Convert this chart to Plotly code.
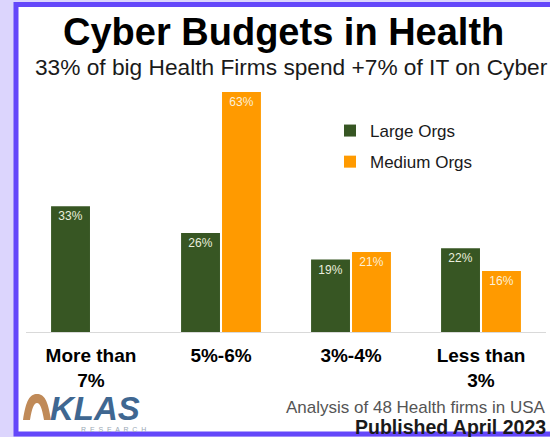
import plotly.graph_objects as go

# ---------------- data ----------------
categories = ["More than<br>7%", "5%-6%", "3%-4%", "Less than<br>3%"]
large_orgs = [33, 26, 19, 22]
medium_orgs = [None, 63, 21, 16]
large_labels = ["33%", "26%", "19%", "22%"]
medium_labels = ["", "63%", "21%", "16%"]

W, H = 550, 437
FONT = "Arial, Liberation Sans, sans-serif"
GREEN = "#375623"
ORANGE = "#ff9a00"
PURPLE = "#6447fa"


def px(x):
    return x / W


def py(y):
    return 1 - y / H


fig = go.Figure()
fig.add_trace(go.Bar(
    name="Large Orgs", x=categories, y=large_orgs, text=large_labels,
    marker=dict(color=GREEN, line=dict(width=0)),
    textposition="inside", insidetextanchor="end", constraintext="none",
    textfont=dict(color="#e9eedd", size=12, family=FONT),
    legendgroup="a",
))
fig.add_trace(go.Bar(
    name="Medium Orgs", x=categories, y=medium_orgs, text=medium_labels,
    marker=dict(color=ORANGE, line=dict(width=0)),
    textposition="inside", insidetextanchor="end", constraintext="none",
    textfont=dict(color="#fdf0d8", size=12, family=FONT),
    legendgroup="b",
))

shapes = [
    # white card with purple border
    dict(type="rect", xref="paper", yref="paper",
         x0=px(16), x1=px(600), y0=py(434), y1=py(4.5),
         fillcolor="white", line=dict(color=PURPLE, width=5), layer="below"),
    # KLAS arch logo
    dict(type="path", xref="paper", yref="paper",
         path=(f"M {px(23)},{py(420)} "
               f"C {px(26)},{py(400)} {px(30)},{py(394)} {px(37)},{py(394)} "
               f"C {px(44)},{py(394)} {px(48)},{py(400)} {px(51)},{py(420)} "
               f"L {px(44)},{py(420)} "
               f"C {px(42)},{py(408)} {px(40)},{py(403)} {px(37)},{py(403)} "
               f"C {px(34)},{py(403)} {px(32)},{py(408)} {px(30)},{py(420)} Z"),
         fillcolor="#c08a58", line=dict(width=0)),
]


def note(text, x, y, size, color, xanchor="center"):
    return dict(text=text, x=px(x), y=py(y), xref="paper", yref="paper",
                xanchor=xanchor, yanchor="middle", showarrow=False,
                font=dict(size=size, color=color, family=FONT))


annotations = [
    note("<b>Cyber Budgets in Health</b>", 283, 32, 38, "black"),
    note("33% of big Health Firms spend +7% of IT on Cyber", 291, 67, 22.7, "#1a1a1a"),
    note("<b><i>KLAS</i></b>", 48, 408, 33, "#3f6791", xanchor="left"),
    note("R  E  S  E  A  R  C  H", 113, 429, 7, "#9aa8b6"),
    note("Analysis of 48 Health firms in USA", 548, 407, 17, "#555555", xanchor="right"),
    note("<b>Published April 2023</b>", 548, 427, 19.5, "#1a1a1a", xanchor="right"),
]

fig.update_layout(
    width=W, height=H,
    margin=dict(l=0, r=0, t=0, b=0),
    paper_bgcolor="#dcd5fd",
    plot_bgcolor="rgba(0,0,0,0)",
    barmode="group", bargap=0.37, bargroupgap=0.05,
    font=dict(family=FONT),
    showlegend=True,
    legend=dict(x=px(330), y=py(113), xanchor="left", yanchor="top",
                bgcolor="rgba(0,0,0,0)", traceorder="grouped",
                tracegroupgap=6, itemwidth=30,
                font=dict(size=17, color="#1a1a1a", family=FONT)),
    xaxis=dict(domain=[px(26), px(546)], showgrid=False, zeroline=False,
               showline=True, linecolor="#d9d9d9", linewidth=1,
               ticks="", ticklabelstandoff=6,
               tickfont=dict(size=19, color="black", family=FONT),
               tickprefix="<b>", ticksuffix="</b>"),
    yaxis=dict(domain=[py(332), py(65.3)], range=[0, 70], visible=False,
               showgrid=False, zeroline=False),
    shapes=shapes,
    annotations=annotations,
)

fig.write_html(
    "out.html",
    config={"displayModeBar": False},
    post_script="document.body.style.margin='0';document.body.style.overflow='hidden';",
)
